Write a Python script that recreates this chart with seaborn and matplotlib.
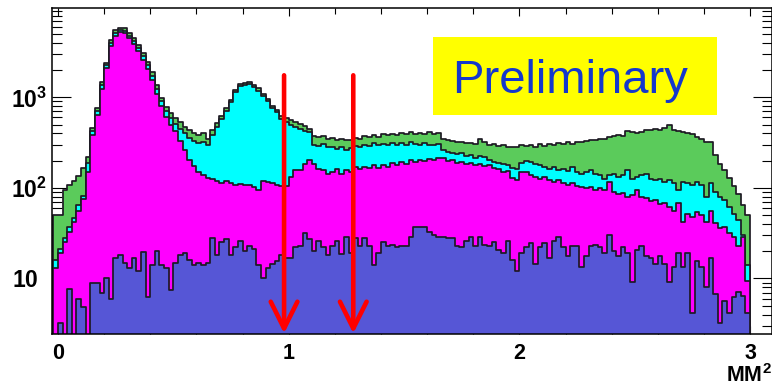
import numpy as np
import pandas as pd
import matplotlib
matplotlib.use("Agg")
import matplotlib.pyplot as plt
import seaborn as sns
from matplotlib.patches import Rectangle
from matplotlib.ticker import FixedLocator, LogLocator, MultipleLocator, NullFormatter
from matplotlib.transforms import ScaledTranslation

sns.set_theme(style="ticks")
plt.rcParams["font.family"] = ["Liberation Sans", "DejaVu Sans"]
plt.rcParams["mathtext.fontset"] = "custom"
plt.rcParams["mathtext.rm"] = "Liberation Sans"
plt.rcParams["mathtext.bf"] = "Liberation Sans:bold"

# ---- binning: 0.02 wide bins starting at -0.02 ----
BIN_LO, BIN_W = -0.02, 0.02

# cumulative stack heights per bin (top of each coloured layer)
stack_green = [
    50, 50, 95, 107, 120, 137, 165, 218, 455, 755,
    1460, 2370, 4260, 5500, 5900, 5800, 5100, 4500, 3760, 3060,
    2430, 1890, 1360, 975, 775, 665, 585, 530, 465, 432,
    400, 380, 400, 350, 432, 515, 630, 755, 927, 1195,
    1390, 1430, 1460, 1360, 1260, 1100, 970, 810, 730, 630,
    590, 560, 530, 512, 480, 450, 370, 365, 370, 350,
    358, 335, 350, 340, 335, 358, 350, 370, 365, 380,
    365, 390, 380, 395, 380, 400, 390, 414, 395, 400,
    390, 414, 395, 400, 350, 340, 330, 320, 325, 310,
    315, 305, 350, 320, 300, 305, 290, 295, 283, 285,
    280, 300, 290, 295, 283, 303, 290, 308, 300, 313,
    303, 318, 308, 324, 321, 330, 340, 335, 350, 345,
    365, 372, 380, 372, 420, 414, 404, 414, 440, 432,
    446, 440, 455, 490, 432, 425, 414, 404, 397, 365,
    350, 321, 321, 229, 185, 156, 130, 105, 85, 65,
    50,
]
stack_cyan = [
    16, 21, 28, 37, 47, 65, 82, 190, 420, 700,
    1370, 2250, 4000, 5150, 5500, 5450, 4800, 4200, 3500, 2830,
    2250, 1720, 1230, 900, 700, 590, 510, 450, 400, 360,
    330, 310, 320, 300, 380, 470, 580, 710, 880, 1140,
    1330, 1370, 1400, 1300, 1190, 1040, 920, 770, 690, 575,
    530, 490, 470, 450, 430, 414, 300, 290, 305, 285,
    280, 270, 285, 265, 275, 290, 285, 300, 290, 310,
    295, 305, 300, 310, 295, 315, 300, 320, 305, 300,
    310, 295, 300, 305, 260, 250, 245, 235, 240, 225,
    230, 215, 225, 220, 205, 195, 190, 185, 180, 165,
    160, 190, 200, 193, 182, 178, 170, 163, 170, 156,
    163, 153, 170, 150, 144, 150, 156, 144, 138, 127,
    138, 144, 132, 138, 156, 127, 132, 138, 144, 127,
    121, 127, 116, 121, 112, 94, 116, 112, 107, 116,
    107, 80, 112, 90, 80, 73, 62, 52, 44, 30,
    14,
]
stack_magenta = [
    13, 19, 25, 33, 42, 56, 75, 150, 380, 640,
    1250, 2100, 3700, 4800, 5200, 5100, 4500, 3900, 3250, 2600,
    2050, 1550, 1100, 800, 600, 500, 420, 330, 260, 205,
    175, 150, 140, 130, 125, 118, 112, 118, 112, 108,
    110, 107, 107, 103, 94, 118, 116, 112, 107, 105,
    105, 132, 156, 156, 185, 201, 185, 163, 156, 144,
    150, 163, 144, 156, 150, 170, 163, 170, 167, 177,
    167, 181, 172, 188, 177, 192, 185, 201, 192, 205,
    197, 210, 201, 215, 215, 200, 205, 190, 195, 185,
    190, 178, 185, 175, 180, 165, 160, 150, 155, 128,
    122, 150, 150, 138, 132, 127, 132, 121, 116, 121,
    112, 107, 112, 104, 103, 99, 103, 94, 99, 96,
    116, 90, 86, 88, 80, 83, 94, 80, 77, 71,
    74, 66, 68, 61, 56, 68, 42.5, 52, 48, 54,
    50, 42.5, 56, 41, 36, 37, 31.5, 29, 22.7, 29,
    9.5,
]
stack_blue = [
    1, 3.2, 1.5, 7.7, 1.5, 6, 4.8, 1.5, 9, 9,
    7, 10, 6, 17, 18, 15, 13, 17, 12, 19.5,
    6.2, 14, 20, 14, 13, 7.4, 15, 18, 19, 16,
    14, 15, 14, 15, 28, 18, 25, 27, 18, 22,
    26, 20, 23, 21, 14, 10, 13, 14.5, 15.8, 18,
    17, 17, 22, 23, 32, 27, 20, 26, 22, 18,
    23, 26, 18.5, 29, 19, 28, 23, 28, 23, 14,
    19, 25, 23, 23.5, 22, 23, 23, 29, 37, 37,
    37, 33, 30, 29, 29, 28, 28, 23, 22, 26,
    29, 23, 29, 23.5, 23, 25, 20.4, 19, 26, 16,
    12.2, 19, 22, 24.5, 14.3, 22, 24.5, 17, 26, 29,
    22, 17.7, 23, 23, 13.3, 17.7, 23, 23.5, 22, 19,
    30, 20, 17.7, 22, 19, 9.1, 20.4, 23, 17.7, 17,
    14.3, 17.7, 14.3, 9.1, 13.3, 19, 13.3, 19, 4.2, 15.8,
    13.3, 8.1, 17, 6.8, 3.2, 5.7, 4.2, 6.2, 7.1, 6.4,
    4.2,
]

cut_positions = [0.98, 1.28]
x_tick_values = [0, 1, 2, 3]
x_tick_labels = ["0", "1", "2", "3"]
y_tick_values = [10, 100, 1000]
y_tick_labels = [r"$\mathbf{10}$", r"$\mathbf{10^{2}}$", r"$\mathbf{10^{3}}$"]
stamp_text = "Preliminary"
axis_title = r"MM$^{\mathbf{2}}$"

EDGE = "#1e1a24"
layer_colors = ["#5BCB5B", "#00FFFF", "#FF00FF", "#5656D6"]

n_bins = len(stack_green)
centers = BIN_LO + BIN_W * (np.arange(n_bins) + 0.5)
bin_range = (BIN_LO, BIN_LO + BIN_W * n_bins)

W, H = 772, 386
fig = plt.figure(figsize=(W / 100, H / 100), dpi=100)
fig.patch.set_facecolor("white")
ax = fig.add_axes([52 / W, 1 - 333.5 / H, (771.5 - 52) / W, (333.5 - 8.3) / H])
ax.set_facecolor("white")

# back-to-front: every layer is the running sum of the stack
for vals, col in zip([stack_green, stack_cyan, stack_magenta, stack_blue], layer_colors):
    df = pd.DataFrame({"mm2": centers, "entries": np.asarray(vals, dtype=float)})
    sns.histplot(data=df, x="mm2", weights="entries", binwidth=BIN_W, binrange=bin_range,
                 element="step", fill=True, color=col, alpha=1.0,
                 edgecolor=EDGE, linewidth=1.25, ax=ax)

ax.set_yscale("log")
ax.set_xlim(-0.026, 3.093)
ax.set_ylim(2.47, 9620)
ax.set_ylabel("")

# ROOT-like frame and inward ticks on all sides
for sp in ax.spines.values():
    sp.set_linewidth(1.1)
    sp.set_color("black")
    sp.set_visible(True)

ax.xaxis.set_major_locator(FixedLocator(x_tick_values))
ax.set_xticklabels(x_tick_labels)
ax.xaxis.set_minor_locator(MultipleLocator(0.2))
ax.yaxis.set_major_locator(FixedLocator(y_tick_values))
ax.set_yticklabels(y_tick_labels)
ax.yaxis.set_minor_locator(LogLocator(base=10, subs=np.arange(2, 10)))
ax.yaxis.set_minor_formatter(NullFormatter())

ax.tick_params(axis="both", which="both", direction="in", top=True, right=True,
               color="black", width=0.8)
ax.tick_params(axis="x", which="major", length=6, pad=7, labelsize=15.5)
ax.tick_params(axis="x", which="minor", length=4)
ax.tick_params(axis="y", which="major", length=14, pad=3.5, labelsize=16.5)
ax.tick_params(axis="y", which="minor", length=7)
for lab in ax.get_xticklabels():
    lab.set_fontweight("bold")
    lab.set_color("black")
for lab in ax.get_yticklabels():
    lab.set_color("black")
# plain "10" sits a little left of the superscripted labels' edge
ylabs = ax.get_yticklabels()
ylabs[0].set_transform(ylabs[0].get_transform() + ScaledTranslation(-9 / 100, 0, fig.dpi_scale_trans))

ax.set_xlabel(axis_title, fontsize=15.5, fontweight="bold", color="black")
ax.xaxis.label.set_ha("right")
ax.xaxis.label.set_va("center")
ax.xaxis.set_label_coords(1.0, -0.129)

# selection cuts
for xc in cut_positions:
    ax.annotate("", xy=(xc, 0.0), xytext=(xc, 0.794),
                xycoords=ax.get_xaxis_transform(), textcoords=ax.get_xaxis_transform(),
                arrowprops=dict(arrowstyle="->,head_length=1.6,head_width=0.8",
                                color="#FF0000", lw=3.3, shrinkA=0, shrinkB=0),
                annotation_clip=False, zorder=8)

# stamp box
ax.add_patch(Rectangle((0.5295, 0.6708), 0.3947, 0.240, transform=ax.transAxes,
                       facecolor="#FFFF00", edgecolor="none", zorder=9))
ax.text(0.556, 0.739, stamp_text, transform=ax.transAxes, fontsize=34,
        color="#1538cc", ha="left", va="baseline", zorder=10)

fig.savefig("out.png", dpi=100, facecolor="white")
